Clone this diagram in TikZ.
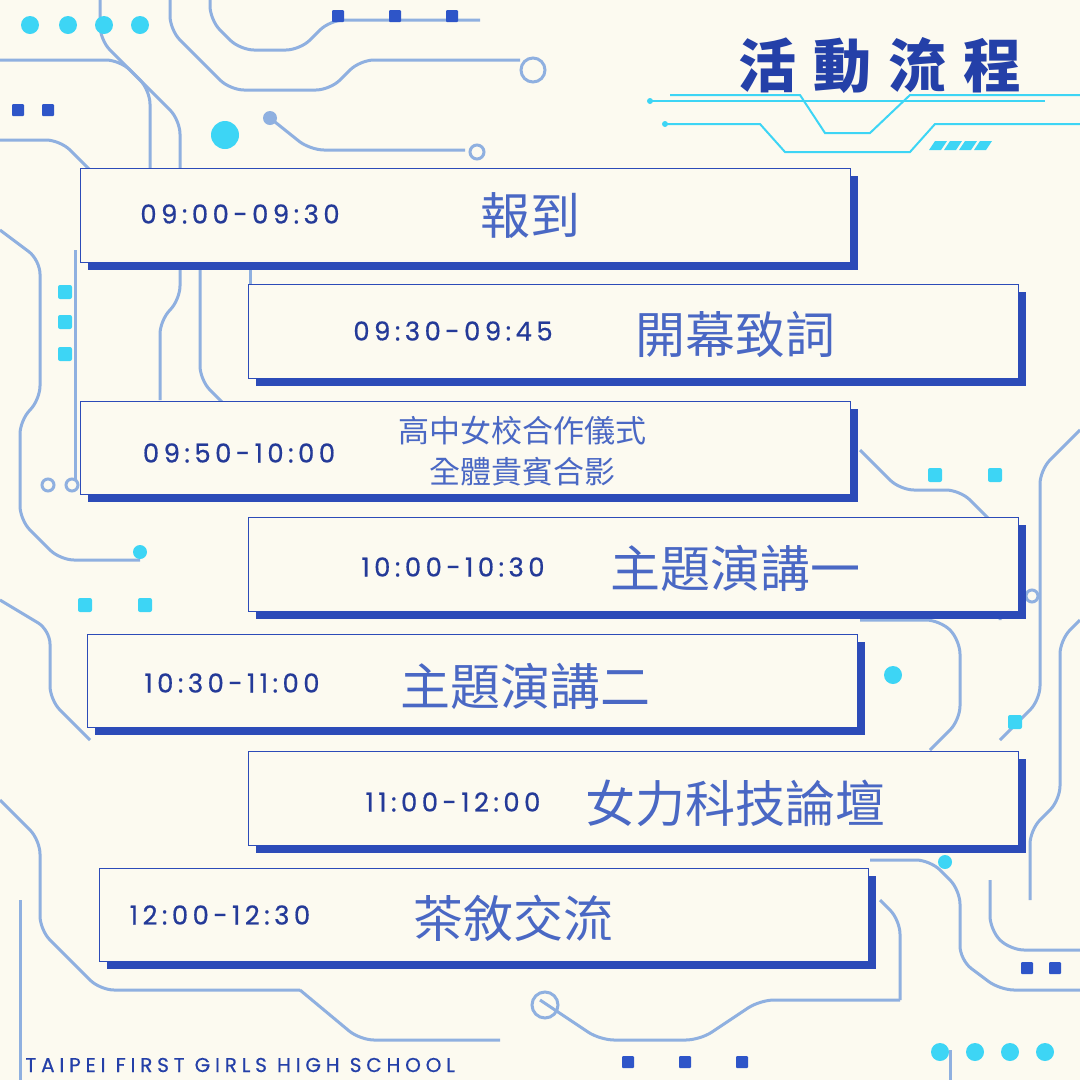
\documentclass[tikz,border=0pt]{standalone}
\usepackage{fontspec}
\setmainfont{Poppins}
\newfontfamily\cjk{Noto Sans CJK TC}
\newfontfamily\wide[LetterSpace=17,FakeBold=0.6]{Poppins}
\newfontfamily\widef[LetterSpace=24,FakeBold=0.5]{Poppins}
\definecolor{bg}{HTML}{FCFAF0}
\definecolor{trace}{HTML}{8FB0E0}
\definecolor{cyanD}{HTML}{3DD5F5}
\definecolor{navy}{HTML}{2440A8}
\definecolor{boxb}{HTML}{2C4BB8}
\definecolor{timec}{HTML}{243A98}
\definecolor{zhc}{HTML}{4A68C4}
\definecolor{sq}{HTML}{2E55C8}
\tikzset{
  tr/.style={draw=trace,line width=3pt,rounded corners=14pt},
  cy/.style={draw=cyanD,line width=2pt},
  dot/.style={circle,fill=cyanD,inner sep=0pt,minimum size=#1},
  ring/.style={circle,draw=trace,line width=3pt,inner sep=0pt,minimum size=#1},
  sqd/.style={fill=sq,rounded corners=1pt},
  card/.style={draw=boxb,line width=1pt,fill=bg},
  tm/.style={font=\wide\fontsize{26}{28}\selectfont,text=timec},
  zh/.style={font=\cjk\fontsize{50}{54}\selectfont,text=zhc},
  zhs/.style={font=\cjk\fontsize{31}{41}\selectfont,text=zhc,align=center}
}
\begin{document}
\begin{tikzpicture}[x=1pt,y=-1pt]
\fill[bg] (0,0) rectangle (1080,1080);
\useasboundingbox (0,0) rectangle (1080,1080);
% background circuit traces
\draw[tr] (0,60) -- (120,60) -- (150,90) -- (150,170);
\draw[tr] (100,0) -- (100,40) -- (180,120) -- (180,300) -- (160,320) -- (160,400);
\draw[tr] (170,0) -- (170,30) -- (230,90) -- (330,90) -- (360,60) -- (520,60);
\node[ring=24pt] at (533,70) {};
\draw[tr] (210,0) -- (210,20) -- (240,50) -- (300,50) -- (330,20) -- (480,20);
\draw[tr] (270,118) -- (310,150) -- (465,150);
\node[ring=14pt] at (477,152) {};
\node[dot=14pt,fill=trace] at (270,118) {};
\draw[tr] (0,140) -- (60,140) -- (90,170);
\draw[tr] (0,230) -- (40,260) -- (40,400) -- (20,420) -- (20,520) -- (60,560) -- (140,560);
\draw[tr] (75,250) -- (75,480);
\draw[tr] (200,260) -- (200,380) -- (230,410);
\draw[tr] (250,270) -- (250,300);
\draw[tr] (0,600) -- (50,630) -- (50,700) -- (90,740);
\draw[tr] (0,800) -- (40,840) -- (40,930) -- (100,990) -- (300,990);
\draw[tr] (20,900) -- (20,1080);
\draw[tr] (540,1000) -- (600,1040) -- (700,1040) -- (760,1000) -- (900,1000);
\node[ring=26pt] at (545,1005) {};
\draw[tr] (300,990) -- (360,1040) -- (500,1040);
\draw[tr] (860,450) -- (900,490) -- (960,490) -- (1000,530) -- (1000,620);
\draw[tr] (1080,430) -- (1040,470) -- (1040,700) -- (1000,740);
\draw[tr] (860,620) -- (940,620) -- (960,640) -- (960,720) -- (930,750);
\draw[tr] (1080,620) -- (1060,640) -- (1060,800) -- (1030,830) -- (1030,900);
\draw[tr] (870,860) -- (930,860) -- (960,890) -- (960,960) -- (1000,990) -- (1080,990);
\draw[tr] (880,900) -- (900,920) -- (900,1000);
\draw[tr] (990,880) -- (990,930) -- (1010,950) -- (1080,950);
\draw[tr] (950,1080) -- (950,1050);
\node[ring=12pt] at (48,485) {};
\node[ring=12pt] at (72,485) {};
\node[ring=12pt] at (1032,596) {};
% cyan dots
\foreach \x in {30,68,104,140} \node[dot=18pt] at (\x,25) {};
\foreach \x in {940,975,1010,1045} \node[dot=18pt] at (\x,1052) {};
\node[dot=28pt] at (225,135) {};
\node[dot=14pt] at (140,552) {};
\node[dot=18pt] at (893,675) {};
\foreach \y in {292,322,354} \node[dot=14pt,rectangle,rounded corners=2pt] at (65,\y) {};
\foreach \x in {85,145} \node[dot=14pt,rectangle,rounded corners=2pt] at (\x,605) {};
\foreach \x in {935,995} \node[dot=14pt,rectangle,rounded corners=2pt] at (\x,475) {};
\node[dot=14pt,rectangle,rounded corners=2pt] at (1015,722) {};
\node[dot=14pt] at (945,862) {};
% dark blue squares
\foreach \x in {338,395,452} \fill[sqd] (\x-6,10) rectangle (\x+6,22);
\foreach \x in {18,48} \fill[sqd] (\x-6,104) rectangle (\x+6,116);
\foreach \x in {628,685,742} \fill[sqd] (\x-6,1056) rectangle (\x+6,1068);
\foreach \x in {1027,1055} \fill[sqd] (\x-6,962) rectangle (\x+6,974);
% title
\node[font=\cjk\bfseries\fontsize{58}{62}\selectfont,text=navy] (title) at (880,65) {活\hspace{17pt}動\hspace{17pt}流\hspace{17pt}程};
\coordinate (l1a) at (650,101); \coordinate (l1b) at (1045,101);
\draw[cy] (l1a) -- (l1b);
\fill[cyanD] (l1a) circle (3pt);
\draw[cy] (670,95) -- (800,95) -- (825,133) -- (870,133) -- (910,95) -- (1080,95);
\draw[cy] (665,124) -- (760,124) -- (785,152) -- (910,152) -- (935,124) -- (1080,124);
\fill[cyanD] (665,124) circle (3pt);
\foreach \i in {0,1,2,3} \fill[cyanD] (935+\i*15,141) -- (947+\i*15,141) -- (941+\i*15,150) -- (929+\i*15,150) -- cycle;
% cards
\newcommand{\cardbox}[5]{%
  \fill[boxb] (#1+8,#2+8) rectangle (#3+8,#4+8);
  \draw[card] (#1,#2) rectangle (#3,#4);
}
\cardbox{80}{168}{850}{262}{1}
\node[tm] (t1) at (240,214) {09:00-09:30};
\node[zh] (z1) at (530,216) {報到};
\cardbox{248}{284}{1018}{378}{2}
\node[tm] (t2) at (453,331) {09:30-09:45};
\node[zh] (z2) at (735,334) {開幕致詞};
\cardbox{80}{401}{850}{494}{3}
\node[tm] (t3) at (239,453) {09:50-10:00};
\node[zhs] (z3) at (522,451) {高中女校合作儀式\\全體貴賓合影};
\cardbox{248}{517}{1018}{611}{4}
\node[tm] (t4) at (453,567) {10:00-10:30};
\node[zh] (z4) at (735,568) {主題演講一};
\cardbox{87}{634}{857}{727}{5}
\node[tm] (t5) at (232,683) {10:30-11:00};
\node[zh] (z5) at (525,686) {主題演講二};
\cardbox{248}{751}{1018}{845}{6}
\node[tm] (t6) at (453,802) {11:00-12:00};
\node[zh] (z6) at (735,803) {女力科技論壇};
\cardbox{99}{868}{868}{961}{7}
\node[tm] (t7) at (220,915) {12:00-12:30};
\node[zh] (z7) at (513,918) {茶敘交流};
% footer
\node[font=\widef\fontsize{20}{22}\selectfont,text=navy,anchor=west] (foot) at (22,1065) {TAIPEI FIRST GIRLS HIGH SCHOOL};
\end{tikzpicture}
\end{document}
